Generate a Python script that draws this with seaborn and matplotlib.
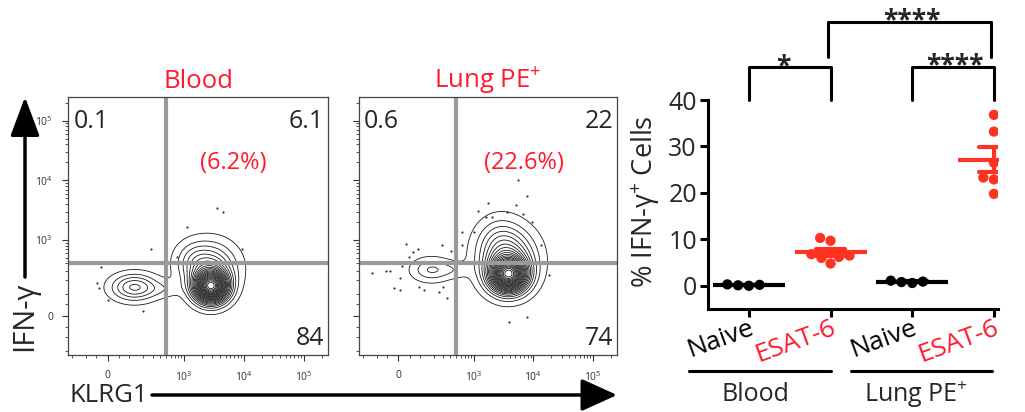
import numpy as np
import pandas as pd
import matplotlib
matplotlib.use('Agg')
import matplotlib.pyplot as plt
import seaborn as sns

RED = '#ff1a2d'
DOT_RED = '#ff3322'

# ---------------- dot plot data (% IFN-g+ cells) ----------------
groups = ['Blood Naive', 'Blood ESAT-6', 'Lung Naive', 'Lung ESAT-6']
blood_naive = [0.3, 0.1, 0.2, 0.0]
blood_esat = [10.3, 9.7, 6.8, 6.5, 6.2, 6.0, 4.8]
lung_naive = [0.8, 1.1, 0.6, 0.9]
lung_esat = [36.8, 33.2, 26.5, 23.3, 22.9, 19.8]
tick_names = ['Naive', 'ESAT-6', 'Naive', 'ESAT-6']
tick_colors = ['black', RED, 'black', RED]
group_colors = ['black', DOT_RED, 'black', DOT_RED]
tissues = ['Blood', 'Lung PE$^{+}$']
stars = ['*', '****', '****']

# ---------------- flow panels (channel units, 0-1) ----------------
flow_titles = ['Blood', 'Lung PE$^{+}$']
quad_ul = ['0.1', '0.6']
quad_ur = ['6.1', '22']
quad_lr = ['84', '74']
pct_pos = ['(6.2%)', '(22.6%)']
gate_x = [0.376, 0.376]
gate_y = [0.357, 0.357]

# populations: centre x, centre y, spread x, spread y, weight
blood_pop_x = [0.255, 0.37, 0.55, 0.545, 0.48]
blood_pop_y = [0.262, 0.255, 0.265, 0.34, 0.37]
blood_pop_sx = [0.058, 0.045, 0.042, 0.066, 0.045]
blood_pop_sy = [0.034, 0.022, 0.04, 0.062, 0.045]
blood_pop_w = [0.13, 0.012, 0.5, 0.3, 0.04]

lung_pop_x = [0.28, 0.37, 0.58, 0.575, 0.54]
lung_pop_y = [0.33, 0.33, 0.31, 0.37, 0.45]
lung_pop_sx = [0.05, 0.04, 0.045, 0.07, 0.055]
lung_pop_sy = [0.03, 0.022, 0.042, 0.075, 0.06]
lung_pop_w = [0.05, 0.01, 0.45, 0.45, 0.06]

# single events outside the contours
blood_ev_x = [0.575, 0.595, 0.459, 0.319, 0.418, 0.669, 0.126, 0.109, 0.118, 0.152, 0.289]
blood_ev_y = [0.570, 0.555, 0.497, 0.412, 0.381, 0.412, 0.340, 0.278, 0.261, 0.213, 0.172]
lung_ev_x = [0.617, 0.652, 0.501, 0.607, 0.460, 0.575, 0.634, 0.492, 0.517, 0.669, 0.400,
             0.447, 0.400, 0.704, 0.320, 0.182, 0.230, 0.208, 0.357, 0.195, 0.049, 0.103,
             0.119, 0.165, 0.159, 0.137, 0.159, 0.234, 0.252, 0.311, 0.327, 0.340, 0.738,
             0.583, 0.650]
lung_ev_y = [0.678, 0.616, 0.587, 0.581, 0.559, 0.555, 0.546, 0.533, 0.533, 0.514, 0.475,
             0.477, 0.426, 0.426, 0.426, 0.429, 0.409, 0.400, 0.402, 0.381, 0.316, 0.325,
             0.325, 0.345, 0.297, 0.261, 0.252, 0.264, 0.252, 0.245, 0.264, 0.219, 0.310,
             0.129, 0.146]

major_vals = [0, 1e3, 1e4, 1e5]
major_labels = ['0', '$10^3$', '$10^4$', '$10^5$']


def chan(v):
    # biexponential-like display of fluorescence values
    return 0.152 + 0.1005 * np.arcsinh(np.asarray(v, dtype=float) / 108.7)


minor_vals = [-200, -100, -50, 50] + [m * 10 ** k for k in (2, 3, 4) for m in range(1, 10)] + [2e5]
minor_vals = [v for v in minor_vals if v not in (1e3, 1e4)]

sns.set_theme(style='ticks')
plt.rcParams['font.family'] = ['Open Sans', 'DejaVu Sans']
plt.rcParams['mathtext.fontset'] = 'custom'
plt.rcParams['mathtext.rm'] = 'Open Sans'
plt.rcParams['mathtext.it'] = 'Open Sans:italic'
plt.rcParams['mathtext.default'] = 'regular'

fig = plt.figure(figsize=(10.25, 4.12), dpi=100)
W, H = 1025, 412


def px_axes(left, top, right, bottom):
    return fig.add_axes([left / W, 1 - bottom / H, (right - left) / W, (bottom - top) / H])


ax_b = px_axes(68.3, 96.7, 327.7, 355)
ax_l = px_axes(359, 96.7, 617, 355)
ax_d = px_axes(708, 100, 998, 309)

g = np.linspace(0, 1, 500)
GX, GY = np.meshgrid(g, g)

panels = [
    (ax_b, blood_pop_x, blood_pop_y, blood_pop_sx, blood_pop_sy, blood_pop_w, blood_ev_x, blood_ev_y),
    (ax_l, lung_pop_x, lung_pop_y, lung_pop_sx, lung_pop_sy, lung_pop_w, lung_ev_x, lung_ev_y),
]
for i, (ax, px, py, sx, sy, w, ex, ey) in enumerate(panels):
    Z = np.zeros_like(GX)
    for cx, cy, a, b, wt in zip(px, py, sx, sy, w):
        Z += wt / (a * b) * np.exp(-((GX - cx) ** 2 / (2 * a ** 2) + (GY - cy) ** 2 / (2 * b ** 2)))
    Z /= Z.max()
    lv = np.linspace(0.025, 0.96, 24)
    ax.contour(GX, GY, Z, levels=lv, colors='#1a1a1a', linewidths=0.6)
    ax.scatter(ex, ey, s=2.5, color='#333333', linewidths=0)
    ax.axvline(gate_x[i], color='#9a9a9a', lw=3)
    ax.axhline(gate_y[i], color='#9a9a9a', lw=3)
    ax.set_xlim(0, 1)
    ax.set_ylim(0, 1)
    ax.set_xticks(chan(major_vals))
    ax.set_xticklabels(major_labels)
    ax.set_xticks(chan(minor_vals), minor=True)
    ax.set_yticks(chan(major_vals))
    ax.set_yticks(chan(minor_vals), minor=True)
    if i == 0:
        ax.set_yticklabels(major_labels)
    else:
        ax.set_yticklabels([])
    ax.tick_params(which='major', direction='out', length=4, width=0.8, color='#333333',
                   labelsize=7.5, labelcolor='#333333', pad=7)
    ax.tick_params(which='minor', direction='out', length=2.2, width=0.6, color='#333333')
    for s in ax.spines.values():
        s.set_color('#444444')
        s.set_linewidth(0.9)
    ax.set_title(flow_titles[i], color=RED, fontsize=18.5, pad=6)
    ax.text(0.02, 0.905, quad_ul[i], transform=ax.transAxes, fontsize=18, va='center', ha='left')
    ax.text(0.985, 0.905, quad_ur[i], transform=ax.transAxes, fontsize=18, va='center', ha='right')
    ax.text(0.985, 0.065, quad_lr[i], transform=ax.transAxes, fontsize=18, va='center', ha='right')
    ax.text(0.635 if i == 0 else 0.64, 0.745, pct_pos[i], transform=ax.transAxes, fontsize=17,
            va='center', ha='center', color=RED)

# axis labels with arrows
fig.text(25 / W, 1 - 316 / H, 'IFN-γ', rotation=90, fontsize=21, ha='center', va='center')
fig.text(70 / W, 1 - 396 / H, 'KLRG1', fontsize=18.5, ha='left', va='center')
ax_b.annotate('', xy=(25, H - 97), xytext=(25, H - 277), xycoords='figure pixels',
              textcoords='figure pixels',
              arrowprops=dict(arrowstyle='-|>,head_length=24,head_width=9', mutation_scale=1,
                              lw=2.5, color='black', shrinkA=0, shrinkB=0))
ax_b.annotate('', xy=(617, H - 395), xytext=(152, H - 395), xycoords='figure pixels',
              textcoords='figure pixels',
              arrowprops=dict(arrowstyle='-|>,head_length=22,head_width=10', mutation_scale=1,
                              lw=2.5, color='black', shrinkA=0, shrinkB=0))

# ---------------- dot plot ----------------
values = [blood_naive, blood_esat, lung_naive, lung_esat]
df = pd.DataFrame({
    'group': np.repeat(groups, [len(v) for v in values]),
    'value': np.concatenate(values),
})
pal = dict(zip(groups, group_colors))
sns.swarmplot(data=df, x='group', y='value', hue='group', order=groups, palette=pal,
              size=7.4, linewidth=0, legend=False, ax=ax_d, zorder=2)
sns.pointplot(data=df, x='group', y='value', hue='group', order=groups, palette=pal,
              errorbar='se', capsize=0.36, linestyle='none', marker='_', markersize=52,
              markeredgewidth=3, err_kws={'linewidth': 3}, legend=False, ax=ax_d, zorder=3)

ax_d.set_xlim(-0.5, 3.05)
ax_d.set_ylim(-5, 40)
ax_d.set_yticks([0, 10, 20, 30, 40])
ax_d.set_xticks(range(4))
ax_d.set_xticklabels(tick_names, rotation=20, ha='right', rotation_mode='anchor')
for lab, c in zip(ax_d.get_xticklabels(), tick_colors):
    lab.set_color(c)
ax_d.set_xlabel('')
ax_d.set_ylabel('% IFN-γ$^{+}$ Cells', fontsize=19.5)
ax_d.yaxis.set_label_coords(-0.16, 0.515)
sns.despine(ax=ax_d)
for s in ('left', 'bottom'):
    ax_d.spines[s].set_linewidth(2.2)
    ax_d.spines[s].set_color('black')
ax_d.tick_params(axis='both', direction='out', length=6, width=2.2, color='black', labelsize=18)
ax_d.tick_params(axis='x', labelsize=19, pad=-1)
ax_d.tick_params(axis='y', pad=2)

# tissue underlines and names
ax_d.plot([-0.73, 1.0], [-18.4, -18.4], color='black', lw=2.2, clip_on=False)
ax_d.plot([1.25, 2.98], [-18.4, -18.4], color='black', lw=2.2, clip_on=False)
ax_d.text(0.08, -23.5, tissues[0], fontsize=18, ha='center', va='center')
ax_d.text(2.05, -23.5, tissues[1], fontsize=18, ha='center', va='center')

# significance brackets
ax_d.plot([0, 0, 1, 1], [40, 47.1, 47.1, 40], color='black', lw=2.2, clip_on=False)
ax_d.plot([2, 2, 3, 3], [40, 47.1, 47.1, 40], color='black', lw=2.2, clip_on=False)
ax_d.plot([0.97, 0.97, 2.97, 2.97], [49.3, 56.8, 56.8, 49.3], color='black', lw=2.2, clip_on=False)
ax_d.text(0.42, 45.6, stars[0], fontsize=19, fontweight='bold', ha='center', va='baseline')
ax_d.text(2.0, 55.4, stars[1], fontsize=19, fontweight='bold', ha='center', va='baseline')
ax_d.text(2.52, 45.8, stars[2], fontsize=19, fontweight='bold', ha='center', va='baseline')

fig.savefig('out.png', dpi=100)
